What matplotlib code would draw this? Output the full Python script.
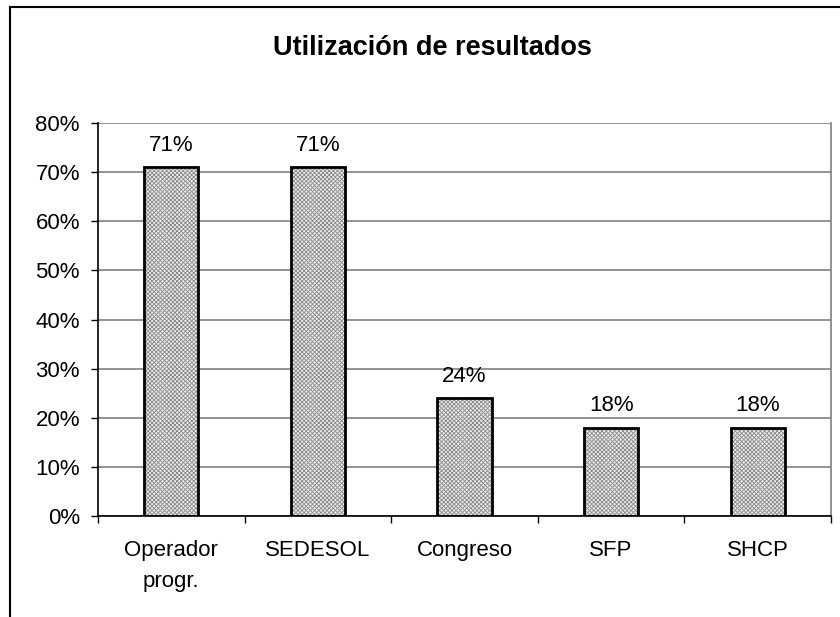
import matplotlib.pyplot as plt
from matplotlib.lines import Line2D
import numpy as np

plt.rcParams['font.family'] = ['Liberation Sans', 'DejaVu Sans']
plt.rcParams['hatch.linewidth'] = 0.6

# Data
categories = ["Operador\nprogr.", "SEDESOL", "Congreso", "SFP", "SHCP"]
values = [71, 71, 24, 18, 18]
yticks = [0, 10, 20, 30, 40, 50, 60, 70, 80]

W, H = 840, 617
fig = plt.figure(figsize=(W / 100, H / 100), dpi=100)
ax = fig.add_axes([98 / W, 1 - 516 / H, (831 - 98) / W, (516 - 123) / H])

x = np.arange(len(categories))
# hatched fill, then black outline on top
ax.bar(x, values, width=0.37, color='#ececec', edgecolor='#8a8a8a',
       hatch='xxxxxxxx', linewidth=0, zorder=2)
ax.bar(x, values, width=0.37, fill=False, edgecolor='black', linewidth=2, zorder=3)

for xi, v in zip(x, values):
    ax.annotate(f"{v}%", (xi, v), xytext=(0, 8), textcoords='offset points',
                ha='center', va='bottom', fontsize=16)

ax.set_xlim(-0.5, len(categories) - 0.5)
ax.set_ylim(0, 80)
ax.set_yticks(yticks)
ax.set_yticklabels([f"{t}%" for t in yticks], fontsize=16)
ax.yaxis.grid(True, color='#808080', linewidth=1.2, zorder=0)
ax.set_axisbelow(True)

ax.set_xticks(x)
ax.set_xticklabels(categories, fontsize=16, linespacing=1.65)
ax.tick_params(axis='x', length=0, pad=17)
ax.set_xticks(np.arange(len(categories) + 1) - 0.5, minor=True)
ax.tick_params(axis='x', which='minor', length=5, direction='out', width=1)
ax.tick_params(axis='y', length=5, direction='out', width=1, pad=8)

ax.spines['top'].set_visible(False)
ax.spines['right'].set_color('#808080')
ax.spines['right'].set_linewidth(1.2)
ax.spines['left'].set_linewidth(1.2)
ax.spines['bottom'].set_linewidth(1.2)

fig.text(432 / W, 1 - 48 / H, "Utilización de resultados", ha='center', va='center',
         fontsize=19.5, fontweight='bold')

# outer frame (top and left only visible)
fig.add_artist(Line2D([10 / W, 1], [1 - 7 / H, 1 - 7 / H], color='black', linewidth=1.5,
                      transform=fig.transFigure))
fig.add_artist(Line2D([10 / W, 10 / W], [1 - 7 / H, 0], color='black', linewidth=1.5,
                      transform=fig.transFigure))

fig.savefig("out.png", dpi=100)
